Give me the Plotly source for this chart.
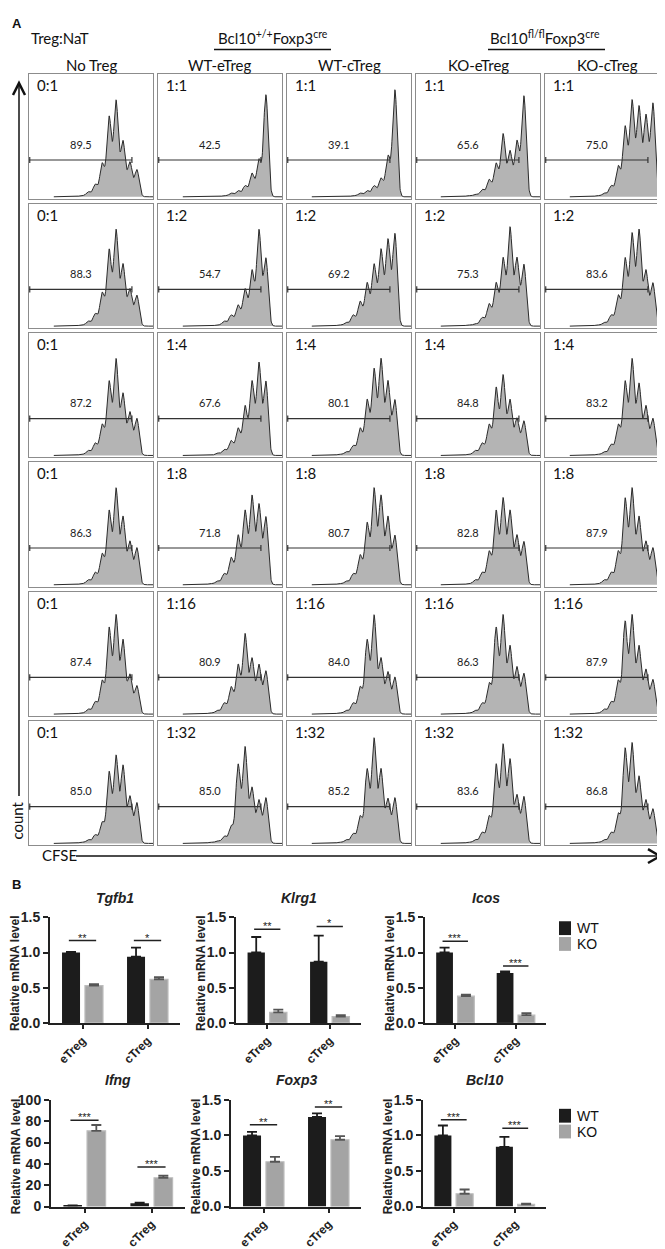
import numpy as np
import plotly.graph_objects as go

W, H = 665, 1249

# ---------------- panel A data ----------------
COLUMNS = ["No Treg", "WT-eTreg", "WT-cTreg", "KO-eTreg", "KO-cTreg"]
TREG_RATIO = ["1:1", "1:2", "1:4", "1:8", "1:16", "1:32"]
NO_TREG_RATIO = "0:1"

GATE_PCT = [
    [89.5, 42.5, 39.1, 65.6, 75.0],
    [88.3, 54.7, 69.2, 75.3, 83.6],
    [87.2, 67.6, 80.1, 84.8, 83.2],
    [86.3, 71.8, 80.7, 82.8, 87.9],
    [87.4, 80.9, 84.0, 86.3, 87.9],
    [85.0, 85.0, 85.2, 83.6, 86.8],
]

# CFSE position of each division peak (gen 0 = undivided, rightmost)
GEN_CFSE = [87.0, 81.4, 75.8, 70.2, 64.6, 59.0, 53.4, 47.8, 42.2]

# peak heights (% of panel height) per generation
PEAKS = [
    [[22, 28, 45, 78, 65, 27, 10, 4, 1],
     [83, 30, 19, 9, 5, 3, 1, 0, 0],
     [87, 33, 15, 9, 5, 3, 1, 0, 0],
     [82, 45, 37, 51, 27, 14, 6, 2, 1],
     [76, 66, 73, 78, 57, 25, 9, 3, 1]],
    [[25, 30, 50, 78, 62, 27, 10, 4, 1],
     [55, 78, 45, 30, 17, 9, 4, 1, 0],
     [75, 70, 62, 50, 35, 20, 9, 3, 1],
     [50, 55, 80, 55, 35, 18, 7, 2, 1],
     [35, 45, 78, 75, 55, 25, 9, 3, 1]],
    [[30, 35, 50, 78, 60, 25, 10, 4, 1],
     [60, 75, 60, 40, 22, 12, 5, 2, 0],
     [45, 60, 78, 70, 45, 22, 8, 3, 1],
     [28, 30, 45, 65, 55, 25, 10, 4, 1],
     [30, 40, 58, 78, 60, 25, 9, 3, 1]],
    [[30, 35, 55, 78, 60, 25, 10, 4, 1],
     [55, 65, 72, 60, 40, 22, 9, 3, 1],
     [40, 55, 72, 78, 50, 24, 9, 3, 1],
     [35, 40, 60, 70, 60, 27, 10, 4, 1],
     [30, 35, 55, 78, 70, 27, 10, 4, 1]],
    [[23, 32, 60, 80, 70, 27, 10, 4, 1],
     [35, 40, 45, 65, 40, 22, 9, 3, 1],
     [30, 34, 45, 80, 60, 22, 9, 3, 1],
     [33, 38, 55, 80, 70, 25, 9, 3, 1],
     [28, 36, 55, 80, 75, 27, 10, 4, 1]],
    [[33, 38, 63, 71, 58, 17, 7, 3, 1],
     [37, 35, 45, 78, 64, 14, 6, 2, 1],
     [37, 36, 60, 85, 60, 22, 8, 3, 1],
     [38, 39, 68, 80, 64, 22, 9, 3, 1],
     [28, 35, 54, 81, 77, 24, 9, 3, 1]],
]
GATE_END = 83

# ---------------- panel B data ----------------
GENES = ["Tgfb1", "Klrg1", "Icos", "Ifng", "Foxp3", "Bcl10"]
CELLS = ["eTreg", "cTreg"]
WT_MEAN = [[1.0, 0.94], [1.0, 0.87], [1.0, 0.71], [0.8, 3.2], [1.0, 1.26], [1.0, 0.84]]
WT_ERR = [[0.01, 0.13], [0.22, 0.37], [0.07, 0.02], [0.2, 0.5], [0.05, 0.05], [0.14, 0.14]]
KO_MEAN = [[0.53, 0.62], [0.15, 0.09], [0.38, 0.11], [71, 27], [0.63, 0.94], [0.18, 0.03]]
KO_ERR = [[0.02, 0.03], [0.04, 0.02], [0.02, 0.03], [5.5, 2], [0.07, 0.05], [0.06, 0.01]]
SIG = [["**", "*"], ["**", "*"], ["***", "***"], ["***", "***"], ["**", "**"], ["***", "***"]]
SIG_Y = [[1.17, 1.17], [1.33, 1.37], [1.16, 0.81], [81, 37], [1.15, 1.40], [1.22, 1.10]]
Y_MAX = [1.5, 1.5, 1.5, 100, 1.5, 1.5]
Y_DTICK = [0.5, 0.5, 0.5, 20, 0.5, 0.5]

# ---------------- geometry (px) ----------------
COL_LEFT = [21, 150, 279, 408, 537]
BOX_W, BOX_H = 124, 126
ROW_TOP, ROW_PITCH = 59, 131

# left px, width px, top px, bottom px
BAR_BOX = [(42, 130, 913, 1020), (228, 125, 913, 1020), (417, 121, 913, 1020),
           (43, 134, 1098, 1206), (223, 130, 1098, 1206), (415, 123, 1098, 1206)]

FONT_A = "Lato"
FONT_B = "Arial, Liberation Sans"


def px(x):
    return x / W


def py(y):
    return 1 - y / H


fig = go.Figure()
layout = {}
annotations = []
shapes = []

xs = np.linspace(20, 100, 401)
sigma = 1.85

n = 0
for r in range(6):
    for c in range(5):
        n += 1
        sfx = "" if n == 1 else str(n)
        left = COL_LEFT[c]
        top = ROW_TOP + r * ROW_PITCH
        layout["xaxis" + sfx] = dict(
            domain=[px(left), px(left + BOX_W)], range=[0, 100],
            anchor="y" + sfx, showgrid=False, zeroline=False, showticklabels=False,
            ticks="", showline=True, mirror=True, linecolor="#8c8c8c", linewidth=1,
        )
        layout["yaxis" + sfx] = dict(
            domain=[py(top + BOX_H), py(top)], range=[-1.5, 100],
            anchor="x" + sfx, showgrid=False, zeroline=False, showticklabels=False,
            ticks="", showline=True, mirror=True, linecolor="#8c8c8c", linewidth=1,
        )
        ys = np.zeros_like(xs)
        for pos, h in zip(GEN_CFSE, PEAKS[r][c]):
            ys += h * np.exp(-((xs - pos) ** 2) / (2 * sigma ** 2))
        fig.add_trace(go.Scatter(
            x=xs, y=ys, mode="lines", fill="tozeroy", fillcolor="#b4b4b4",
            line=dict(color="#2b2b2b", width=1), xaxis="x" + sfx, yaxis="y" + sfx,
            showlegend=False, hoverinfo="skip",
        ))
        gy = 30
        fig.add_trace(go.Scatter(
            x=[0, GATE_END, None, 0.6, 0.6, None, GATE_END, GATE_END],
            y=[gy, gy, None, gy - 2.5, gy + 2.5, None, gy - 2.5, gy + 2.5],
            mode="lines", line=dict(color="#333333", width=1.2),
            xaxis="x" + sfx, yaxis="y" + sfx, showlegend=False, hoverinfo="skip",
        ))
        ratio = NO_TREG_RATIO if c == 0 else TREG_RATIO[r]
        annotations.append(dict(
            x=5, y=91, xref="x" + sfx, yref="y" + sfx, text=ratio, showarrow=False,
            xanchor="left", yanchor="middle", font=dict(family=FONT_A, size=15, color="#111"),
        ))
        annotations.append(dict(
            x=42, y=43, xref="x" + sfx, yref="y" + sfx, text=f"{GATE_PCT[r][c]:.1f}",
            showarrow=False, xanchor="center", yanchor="middle",
            font=dict(family=FONT_A, size=11, color="#222"),
        ))

# column headers
for c, name in enumerate(COLUMNS):
    annotations.append(dict(
        x=px(COL_LEFT[c] + BOX_W / 2), y=py(50), xref="paper", yref="paper", text=name,
        showarrow=False, xanchor="center", yanchor="middle",
        font=dict(family=FONT_A, size=15, color="#111"),
    ))
annotations.append(dict(
    x=px(21), y=py(22), xref="paper", yref="paper", text="Treg:NaT", showarrow=False,
    xanchor="left", yanchor="middle", font=dict(family=FONT_A, size=15, color="#111"),
))
for label, cx, x0, x1 in [("Bcl10<sup>+/+</sup>Foxp3<sup>cre</sup>", 265, 206, 323),
                          ("Bcl10<sup>fl/fl</sup>Foxp3<sup>cre</sup>", 537, 480, 597)]:
    annotations.append(dict(
        x=px(cx), y=py(22), xref="paper", yref="paper", text=label, showarrow=False,
        xanchor="center", yanchor="middle", font=dict(family=FONT_A, size=15, color="#111"),
    ))
    shapes.append(dict(type="line", xref="paper", yref="paper", x0=px(x0), x1=px(x1),
                       y0=py(34), y1=py(34), line=dict(color="#111", width=1.5)))

for letter, ly in [("A", 8), ("B", 880)]:
    annotations.append(dict(
        x=px(2), y=py(ly), xref="paper", yref="paper", text=f"<b>{letter}</b>",
        showarrow=False, xanchor="left", yanchor="middle",
        font=dict(family=FONT_B, size=13, color="#111"),
    ))

# count / CFSE arrows
shapes.append(dict(type="line", xref="paper", yref="paper", x0=px(11), x1=px(11),
                   y0=py(790), y1=py(69), line=dict(color="#111", width=1.5)))
shapes.append(dict(type="path", xref="paper", yref="paper",
                   path=f"M {px(5)} {py(80)} L {px(11)} {py(68)} L {px(17)} {py(80)}",
                   line=dict(color="#111", width=2.5)))
shapes.append(dict(type="line", xref="paper", yref="paper", x0=px(68), x1=px(651),
                   y0=py(851), y1=py(851), line=dict(color="#111", width=1.5)))
shapes.append(dict(type="path", xref="paper", yref="paper",
                   path=f"M {px(640)} {py(844)} L {px(652)} {py(851)} L {px(640)} {py(858)}",
                   line=dict(color="#111", width=2.5)))
annotations.append(dict(
    x=px(9), y=py(815), xref="paper", yref="paper", text="count", textangle=-90,
    showarrow=False, xanchor="center", yanchor="middle",
    font=dict(family=FONT_A, size=15, color="#111"),
))
annotations.append(dict(
    x=px(32), y=py(850), xref="paper", yref="paper", text="CFSE", showarrow=False,
    xanchor="left", yanchor="middle", font=dict(family=FONT_A, size=15, color="#111"),
))

# ---------------- panel B ----------------
BAR_W, WT_OFF, KO_OFF = 0.277, -0.315, 0.038
for g, gene in enumerate(GENES):
    n += 1
    sfx = str(n)
    left, width, top, bottom = BAR_BOX[g]
    layout["xaxis" + sfx] = dict(
        domain=[px(left), px(left + width)], range=[-0.5, 1.5], anchor="y" + sfx,
        tickvals=[0, 1], ticktext=CELLS, tickangle=-45, ticks="outside", ticklen=4,
        tickwidth=2, tickcolor="#222", showgrid=False, zeroline=False,
        showline=True, linecolor="#222", linewidth=2,
        tickfont=dict(family=FONT_B, size=12, color="#222", weight="bold"),
    )
    layout["yaxis" + sfx] = dict(
        domain=[py(bottom), py(top)], range=[0, Y_MAX[g]], anchor="x" + sfx,
        dtick=Y_DTICK[g], tickformat=".1f" if Y_MAX[g] < 10 else "d",
        ticks="outside", ticklen=5, tickwidth=2, tickcolor="#222",
        showgrid=False, zeroline=False, showline=True, linecolor="#222", linewidth=2,
        tickfont=dict(family=FONT_B, size=14, color="#222", weight="bold"),
    )
    fig.add_trace(go.Bar(
        x=[0, 1], y=WT_MEAN[g], width=BAR_W, offset=WT_OFF, name="WT",
        marker=dict(color="#1c1c1c", line=dict(width=0)),
        error_y=dict(type="data", array=WT_ERR[g], arrayminus=[0, 0], symmetric=False,
                     color="#1c1c1c", thickness=1.8, width=5),
        xaxis="x" + sfx, yaxis="y" + sfx, showlegend=False,
    ))
    fig.add_trace(go.Bar(
        x=[0, 1], y=KO_MEAN[g], width=BAR_W, offset=KO_OFF, name="KO",
        marker=dict(color="#a4a4a4", line=dict(color="#bcbcbc", width=1.2)),
        error_y=dict(type="data", array=KO_ERR[g], arrayminus=[0, 0], symmetric=False,
                     color="#555555", thickness=1.8, width=5),
        xaxis="x" + sfx, yaxis="y" + sfx, showlegend=False,
    ))
    for k in range(2):
        shapes.append(dict(type="line", xref="x" + sfx, yref="y" + sfx,
                           x0=k - 0.21, x1=k + 0.21, y0=SIG_Y[g][k], y1=SIG_Y[g][k],
                           line=dict(color="#222", width=1.5)))
        annotations.append(dict(
            x=k, y=SIG_Y[g][k], xref="x" + sfx, yref="y" + sfx, text=SIG[g][k],
            showarrow=False, xanchor="center", yanchor="bottom", yshift=-5,
            font=dict(family=FONT_B, size=11, color="#222"),
        ))
    annotations.append(dict(
        x=px(left + width / 2), y=py(top - 20), xref="paper", yref="paper",
        text=f"<b><i>{gene}</i></b>", showarrow=False, xanchor="center", yanchor="middle",
        font=dict(family=FONT_B, size=14, color="#222"),
    ))
    annotations.append(dict(
        x=px(left - 35), y=py((top + bottom) / 2 + 3), xref="paper", yref="paper",
        text="<b>Relative mRNA level</b>", textangle=-90, showarrow=False,
        xanchor="center", yanchor="middle", font=dict(family=FONT_B, size=12, color="#222"),
    ))

# WT / KO legends
for ly in [917, 1107]:
    for k, (lab, col) in enumerate([("WT", "#1c1c1c"), ("KO", "#a4a4a4")]):
        y0 = ly + k * 16
        shapes.append(dict(type="rect", xref="paper", yref="paper", x0=px(551), x1=px(563),
                           y0=py(y0 + 14), y1=py(y0), fillcolor=col, line=dict(width=0)))
        annotations.append(dict(
            x=px(567), y=py(y0 + 7), xref="paper", yref="paper", text=lab, showarrow=False,
            xanchor="left", yanchor="middle", font=dict(family=FONT_B, size=14, color="#111"),
        ))

fig.update_layout(
    width=W, height=H, margin=dict(l=0, r=0, t=0, b=0),
    paper_bgcolor="white", plot_bgcolor="white",
    barmode="overlay", annotations=annotations, shapes=shapes, **layout,
)

fig.write_html("out.html")
